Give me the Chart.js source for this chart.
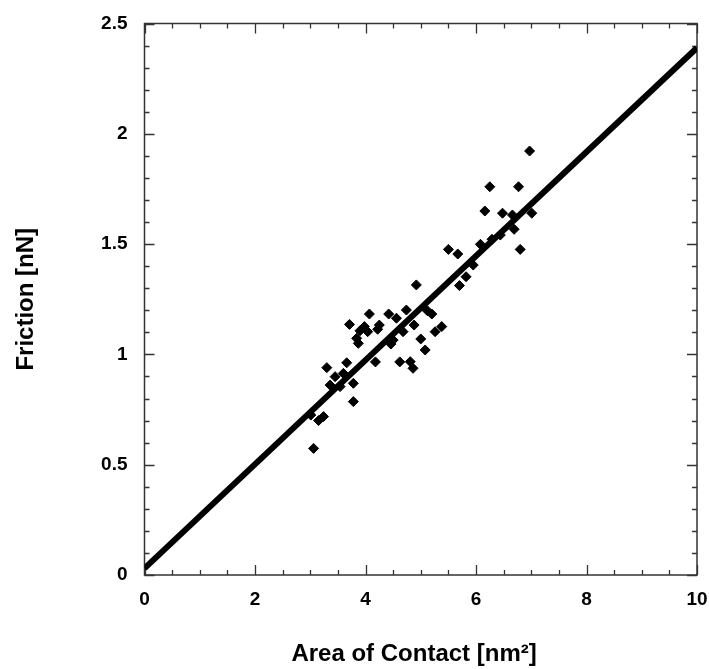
<!DOCTYPE html>
<html><head><meta charset="utf-8">
<script src="https://cdn.jsdelivr.net/npm/chart.js@4/dist/chart.umd.min.js"></script>
<style>html,body{margin:0;padding:0;background:#fff;}canvas{display:block;}</style>
</head><body>
<canvas id="c" width="709" height="669"></canvas>
<script>
// Scatter data: area of contact [nm^2] vs friction [nN]
const areaX = [6.97, 6.25, 6.77, 6.16, 6.48, 6.66, 7.01, 6.69, 6.80, 6.08, 6.29, 6.44,
  5.50, 5.67, 5.95, 5.82, 5.70, 4.92, 4.74, 4.42, 4.56, 4.07, 3.71, 3.98, 4.04, 4.25,
  4.22, 3.90, 3.84, 3.87, 5.12, 5.20, 4.88, 4.68, 4.50, 4.46, 5.38, 5.26, 5.00, 5.08,
  4.18, 4.62, 4.81, 4.86, 3.30, 3.66, 3.45, 3.60, 3.36, 3.54, 3.78, 3.78, 3.01, 3.15,
  3.24, 3.06];
const frictionY = [1.922, 1.760, 1.760, 1.650, 1.640, 1.632, 1.640, 1.567, 1.476, 1.499, 1.522, 1.541,
  1.476, 1.455, 1.405, 1.352, 1.312, 1.315, 1.201, 1.183, 1.164, 1.183, 1.136, 1.126, 1.103, 1.133,
  1.114, 1.107, 1.073, 1.050, 1.198, 1.183, 1.133, 1.103, 1.065, 1.047, 1.126, 1.103, 1.070, 1.020,
  0.966, 0.966, 0.967, 0.937, 0.940, 0.962, 0.899, 0.914, 0.861, 0.854, 0.869, 0.786, 0.725, 0.700,
  0.718, 0.574];
// Linear fit line
const fitX = [0, 10];
const fitY = [0.03, 2.39];
// Axis tick labels
const xTickValues = [0, 2, 4, 6, 8, 10];
const xTickLabels = ['0', '2', '4', '6', '8', '10'];
const yTickValues = [0, 0.5, 1, 1.5, 2, 2.5];
const yTickLabels = ['0', '0.5', '1', '1.5', '2', '2.5'];
const xTitle = 'Area of Contact [nm\u00B2]  ';
const yTitle = 'Friction [nN]';

const FONT = '"Liberation Sans", Arial, Helvetica, sans-serif';
const xMinorStep = 0.5, xMajorStep = 2;
const yMinorStep = 0.1, yMajorStep = 0.5;

const framePlugin = {
  id: 'frame',
  beforeDatasetsDraw(chart) {
    const { ctx, chartArea: a, scales: { x, y } } = chart;
    ctx.save();
    ctx.strokeStyle = '#333';
    ctx.lineWidth = 1.5;
    ctx.strokeRect(a.left, a.top, a.right - a.left, a.bottom - a.top);
    ctx.lineWidth = 1.3;
    ctx.beginPath();
    const nx = Math.round((x.max - x.min) / xMinorStep);
    for (let i = 0; i <= nx; i++) {
      const v = x.min + i * xMinorStep;
      const px = Math.round(x.getPixelForValue(v)) + 0.5;
      const major = Math.abs(v / xMajorStep - Math.round(v / xMajorStep)) < 1e-6;
      const L = major ? 10 : 5;
      ctx.moveTo(px, a.bottom); ctx.lineTo(px, a.bottom - L);
      ctx.moveTo(px, a.top); ctx.lineTo(px, a.top + L);
    }
    const ny = Math.round((y.max - y.min) / yMinorStep);
    for (let i = 0; i <= ny; i++) {
      const v = y.min + i * yMinorStep;
      const py = Math.round(y.getPixelForValue(v)) + 0.5;
      const major = i % Math.round(yMajorStep / yMinorStep) === 0;
      const L = major ? 10 : 5;
      ctx.moveTo(a.left, py); ctx.lineTo(a.left + L, py);
      ctx.moveTo(a.right, py); ctx.lineTo(a.right - L, py);
    }
    ctx.stroke();
    ctx.restore();
  }
};

new Chart(document.getElementById('c'), {
  type: 'scatter',
  data: {
    datasets: [
      {
        data: areaX.map((v, i) => ({ x: v, y: frictionY[i] })),
        pointStyle: 'rectRot',
        pointRadius: 5,
        backgroundColor: '#000',
        borderColor: '#000',
        borderWidth: 1,
        order: 0
      },
      {
        data: fitX.map((v, i) => ({ x: v, y: fitY[i] })),
        showLine: true,
        borderColor: '#000',
        borderWidth: 6,
        pointRadius: 0,
        fill: false,
        order: 1
      }
    ]
  },
  options: {
    responsive: false,
    animation: false,
    events: [],
    layout: { padding: { left: 0, right: 12, top: 23.5, bottom: 0 } },
    plugins: { legend: { display: false }, tooltip: { enabled: false } },
    scales: {
      x: {
        type: 'linear', position: 'bottom', min: 0, max: 10,
        afterBuildTicks: s => { s.ticks = xTickValues.map(v => ({ value: v })); },
        afterFit: s => { s.height = 94; s.paddingLeft = 0; s.paddingRight = 0; },
        grid: { display: false, drawTicks: false },
        border: { display: false },
        ticks: {
          color: '#000', font: { family: FONT, size: 19, weight: 'bold' }, padding: 13, maxRotation: 0, autoSkip: false,
          callback: v => xTickLabels[xTickValues.indexOf(v)]
        },
        title: { display: true, text: xTitle, color: '#000', font: { family: FONT, size: 24, weight: 'bold' }, padding: { top: 0, bottom: 0 } }
      },
      y: {
        type: 'linear', position: 'left', min: 0, max: 2.5,
        afterBuildTicks: s => { s.ticks = yTickValues.map(v => ({ value: v })); },
        afterFit: s => { s.width = 144.5; s.paddingTop = 0; s.paddingBottom = 0; },
        grid: { display: false, drawTicks: false },
        border: { display: false },
        ticks: {
          color: '#000', font: { family: FONT, size: 19, weight: 'bold' }, padding: 17, autoSkip: false,
          callback: v => yTickLabels[yTickValues.indexOf(v)]
        },
        title: { display: true, text: yTitle, color: '#000', font: { family: FONT, size: 24, weight: 'bold' }, padding: { top: 12, bottom: 0 } }
      }
    }
  },
  plugins: [framePlugin]
});
</script>
</body></html>
